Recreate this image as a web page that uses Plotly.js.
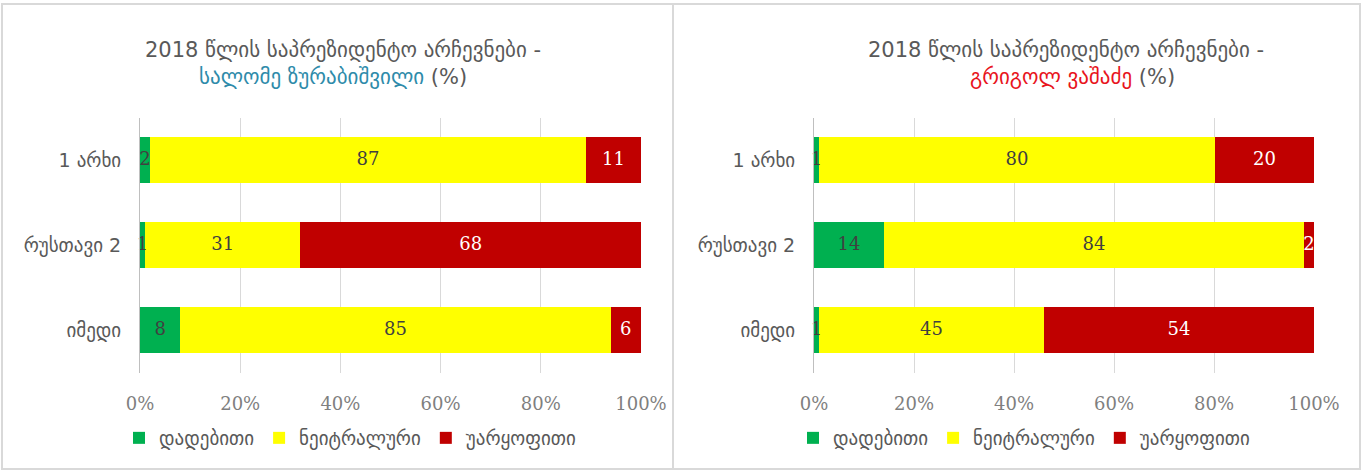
<!DOCTYPE html>
<html>
<head>
<meta charset="utf-8">
<script src="https://cdn.plot.ly/plotly-3.0.1.min.js"></script>
<style>html,body{margin:0;padding:0;background:#fff;}#chart{width:1362px;height:472px;}</style>
</head>
<body>
<div id="chart"></div>
<script>
// ---- data ----
const categories = ["1 არხი", "რუსთავი 2", "იმედი"];
const seriesNames = ["დადებითი", "ნეიტრალური", "უარყოფითი"];
const leftPositive = [2, 1, 8];
const leftNeutral  = [87, 31, 85];
const leftNegative = [11, 68, 6];
const rightPositive = [1, 14, 1];
const rightNeutral  = [80, 84, 45];
const rightNegative = [20, 2, 54];
const tickVals = [0, 20, 40, 60, 80, 100];
const tickText = ["0%", "20%", "40%", "60%", "80%", "100%"];
const titleMain = "2018 წლის საპრეზიდენტო არჩევნები -";
const leftName = "სალომე ზურაბიშვილი";
const rightName = "გრიგოლ ვაშაძე";

// ---- styles ----
const colors = ["#00B050", "#FFFF00", "#C00000"];
const labelColors = ["#404040", "#404040", "#FFFFFF"];
const W = 1362, H = 472;
const px = v => v / W;
const py = v => 1 - v / H;
const numFont = "DejaVu Serif, serif";
const geoFont = "DejaVu Sans, sans-serif";

function panel(series, xa, ya, legendId) {
  const traces = [];
  series.forEach((vals, i) => {
    traces.push({
      type: "bar", orientation: "h", name: seriesNames[i],
      y: categories, x: vals, xaxis: xa, yaxis: ya,
      marker: {color: colors[i]}, legend: legendId,
      hoverinfo: "skip", textposition: "none"
    });
  });
  // labels at normalized segment midpoints
  categories.forEach((c, k) => {
    const total = series.reduce((s, v) => s + v[k], 0);
    let cum = 0;
    series.forEach((vals, i) => {
      const v = vals[k] / total * 100;
      traces.push({
        type: "scatter", mode: "text", x: [cum + v / 2], y: [c],
        text: [String(vals[k])], xaxis: xa, yaxis: ya,
        textfont: {family: numFont, size: 18, color: labelColors[i]},
        showlegend: false, hoverinfo: "skip", cliponaxis: false
      });
      cum += v;
    });
  });
  return traces;
}

const data = [
  ...panel([leftPositive, leftNeutral, leftNegative], "x", "y", "legend"),
  ...panel([rightPositive, rightNeutral, rightNegative], "x2", "y2", "legend2")
];

function xaxis(domain, anchor) {
  return {
    domain: domain, anchor: anchor, range: [0, 100], tickvals: tickVals, ticktext: tickText,
    showgrid: true, gridcolor: "#D9D9D9", gridwidth: 1, zeroline: false, showline: false,
    ticks: "", ticklabelstandoff: 18, fixedrange: true,
    tickfont: {family: numFont, size: 18, color: "#7F7F7F"}
  };
}
function yaxis(anchor) {
  return {
    domain: [py(372.5), py(117.5)], anchor: anchor, autorange: "reversed",
    type: "category", showgrid: false, zeroline: false,
    showline: true, linecolor: "#BFBFBF", linewidth: 1, ticks: "",
    ticklabelstandoff: 14, fixedrange: true,
    tickfont: {family: geoFont, size: 19, color: "#595959"}
  };
}

const legendBase = {
  orientation: "h", yanchor: "middle", xanchor: "center", y: py(438),
  font: {family: geoFont, size: 19, color: "#595959"},
  bgcolor: "rgba(0,0,0,0)", traceorder: "normal", itemclick: false, itemdoubleclick: false,
  itemwidth: 30
};

const titleFont = {family: geoFont, size: 21, color: "#595959"};
const layout = {
  width: W, height: H, margin: {l: 0, r: 0, t: 0, b: 0},
  paper_bgcolor: "#FFFFFF", plot_bgcolor: "#FFFFFF",
  barmode: "stack", barnorm: "percent", bargap: 0.45,
  showlegend: true,
  xaxis: xaxis([px(140), px(641)], "y"),
  yaxis: yaxis("x"),
  xaxis2: xaxis([px(814), px(1314)], "y2"),
  yaxis2: yaxis("x2"),
  legend: Object.assign({}, legendBase, {x: px(350)}),
  legend2: Object.assign({}, legendBase, {x: px(1024)}),
  shapes: [
    {type: "rect", xref: "paper", yref: "paper", x0: px(2), x1: px(673), y0: py(469), y1: py(4),
     line: {color: "#D9D9D9", width: 2}},
    {type: "rect", xref: "paper", yref: "paper", x0: px(673), x1: px(1360), y0: py(469), y1: py(4),
     line: {color: "#D9D9D9", width: 2}}
  ],
  annotations: [
    {xref: "paper", yref: "paper", x: px(343), y: py(50), xanchor: "center", yanchor: "middle",
     text: titleMain, showarrow: false, font: titleFont},
    {xref: "paper", yref: "paper", x: px(333), y: py(77), xanchor: "center", yanchor: "middle",
     text: '<span style="color:#2E8BAA">' + leftName + '</span> (%)', showarrow: false, font: titleFont},
    {xref: "paper", yref: "paper", x: px(1066), y: py(50), xanchor: "center", yanchor: "middle",
     text: titleMain, showarrow: false, font: titleFont},
    {xref: "paper", yref: "paper", x: px(1072), y: py(77), xanchor: "center", yanchor: "middle",
     text: '<span style="color:#E8141C">' + rightName + '</span> (%)', showarrow: false, font: titleFont}
  ]
};

Plotly.newPlot("chart", data, layout, {displayModeBar: false, staticPlot: true});
</script>
</body>
</html>
